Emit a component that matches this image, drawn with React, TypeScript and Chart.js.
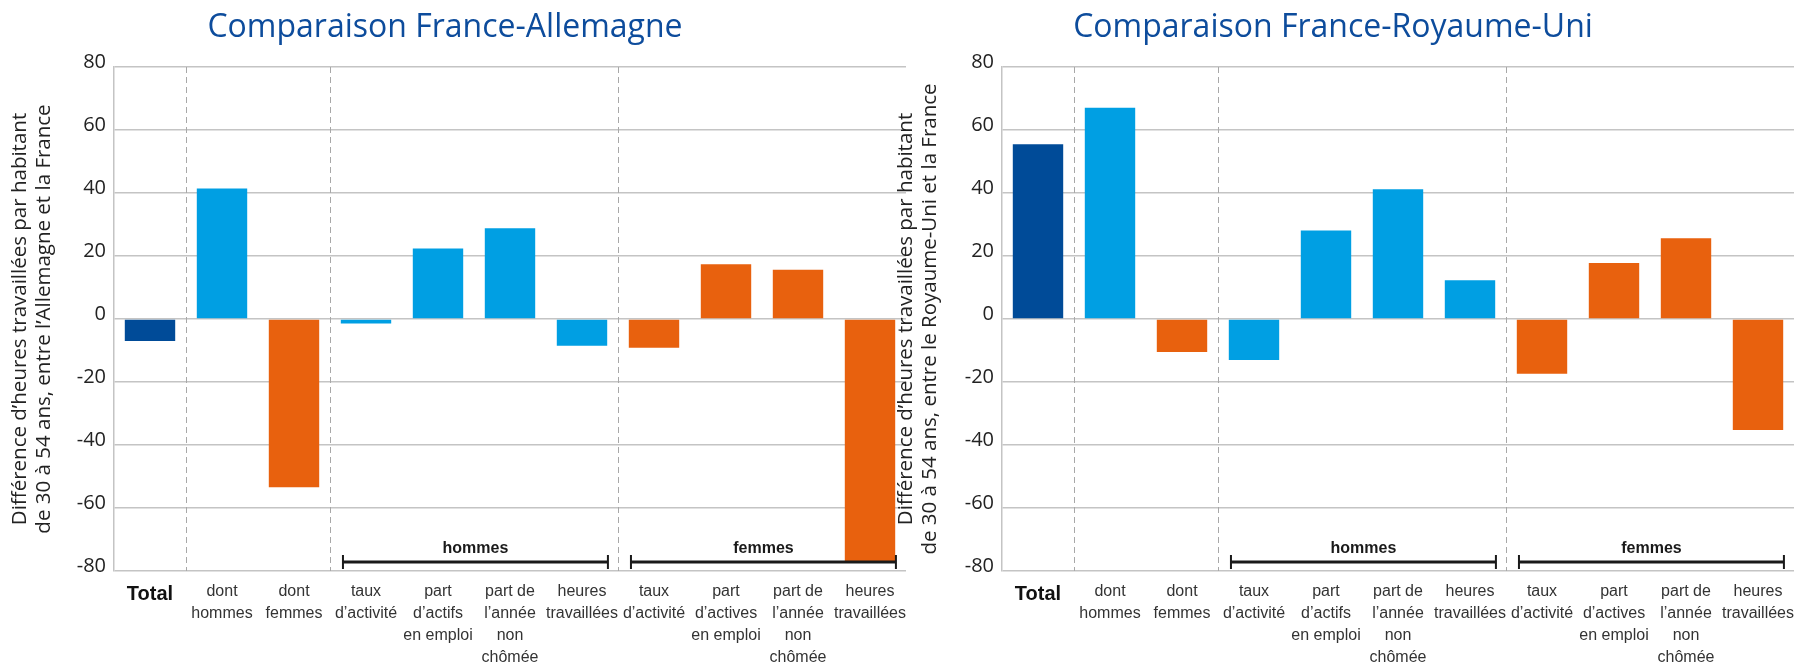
import React, { useEffect, useRef } from "react";
import { Chart, registerables } from "chart.js";

Chart.register(...registerables);

// ---------- data ----------
const categories: string[][] = [
  ["Total"],
  ["dont", "hommes"],
  ["dont", "femmes"],
  ["taux", "d’activité"],
  ["part", "d’actifs", "en emploi"],
  ["part de", "l’année", "non", "chômée"],
  ["heures", "travaillées"],
  ["taux", "d’activité"],
  ["part", "d’actives", "en emploi"],
  ["part de", "l’année", "non", "chômée"],
  ["heures", "travaillées"],
];

const valuesAllemagne = [-7.0, 41.4, -53.4, -1.4, 22.4, 28.8, -8.5, -9.1, 17.4, 15.6, -77.0];
const valuesRoyaumeUni = [55.5, 67.1, -10.5, -13.0, 28.1, 41.2, 12.3, -17.4, 17.8, 25.6, -35.2];

const barColors = [
  "#004b98",
  "#009fe3",
  "#e8610e",
  "#009fe3",
  "#009fe3",
  "#009fe3",
  "#009fe3",
  "#e8610e",
  "#e8610e",
  "#e8610e",
  "#e8610e",
];

const yMin = -80;
const yMax = 80;
const yStep = 20;

const separatorsAfter = [0, 2, 6];
const groupLabels = ["hommes", "femmes"];
const groupFrom = [3, 7];
const groupTo = [6, 10];

const titleAllemagne = "Comparaison France-Allemagne";
const titleRoyaumeUni = "Comparaison France-Royaume-Uni";
const yTitleAllemagne = [
  "Différence d’heures travaillées par habitant",
  "de 30 à 54 ans, entre l’Allemagne et la France",
];
const yTitleRoyaumeUni = [
  "Différence d’heures travaillées par habitant",
  "de 30 à 54 ans, entre le Royaume-Uni et la France",
];

// ---------- styles ----------
const GRID = "#c4c4c4";
const TITLE_COLOR = "#0d4c9c";
const TEXT = "#222222";

function makeDecor(title: string) {
  return {
    id: "decor",
    beforeDatasetsDraw(chart: any) {
      const { ctx, chartArea } = chart;
      const x = chart.scales.x;
      ctx.save();
      ctx.strokeStyle = "#a8a8a8";
      ctx.lineWidth = 1;
      ctx.setLineDash([6, 4]);
      separatorsAfter.forEach((i) => {
        const px = Math.round((x.getPixelForValue(i) + x.getPixelForValue(i + 1)) / 2) + 0.5;
        ctx.beginPath();
        ctx.moveTo(px, chartArea.top);
        ctx.lineTo(px, chartArea.bottom);
        ctx.stroke();
      });
      ctx.restore();
    },
    afterDatasetsDraw(chart: any) {
      const { ctx, chartArea } = chart;
      const x = chart.scales.x;
      const step = x.getPixelForValue(1) - x.getPixelForValue(0);
      const yLine = chartArea.bottom - 9;
      ctx.save();
      ctx.strokeStyle = "#1a1a1a";
      ctx.fillStyle = "#1a1a1a";
      groupLabels.forEach((label, g) => {
        const x0 = x.getPixelForValue(groupFrom[g]) - step * 0.32;
        const x1 = x.getPixelForValue(groupTo[g]) + step * 0.36;
        ctx.lineWidth = 3;
        ctx.beginPath();
        ctx.moveTo(x0, yLine);
        ctx.lineTo(x1, yLine);
        ctx.stroke();
        ctx.lineWidth = 2;
        ctx.beginPath();
        ctx.moveTo(x0, yLine - 7);
        ctx.lineTo(x0, yLine + 7);
        ctx.moveTo(x1, yLine - 7);
        ctx.lineTo(x1, yLine + 7);
        ctx.stroke();
        ctx.font = "bold 16px 'Liberation Sans', Arial, sans-serif";
        ctx.textAlign = "center";
        ctx.textBaseline = "middle";
        ctx.fillText(label, (x0 + x1) / 2, yLine - 13);
      });
      ctx.restore();
    },
    afterDraw(chart: any) {
      const { ctx, chartArea } = chart;
      ctx.save();
      ctx.font = "32px 'Open Sans', sans-serif";
      ctx.fillStyle = TITLE_COLOR;
      ctx.textAlign = "center";
      ctx.textBaseline = "alphabetic";
      ctx.fillText(title, (chartArea.left + chartArea.right) / 2 - 65, 37);
      ctx.restore();
    },
  };
}

function makeConfig(values: number[], title: string, yTitle: string[], yAxisWidth: number, titlePad: number): any {
  return {
    type: "bar",
    data: {
      labels: categories,
      datasets: [
        {
          data: values,
          backgroundColor: barColors,
          borderWidth: 0,
          barPercentage: 0.7,
          categoryPercentage: 1,
        },
      ],
    },
    options: {
      responsive: false,
      animation: false,
      layout: { padding: { left: 0, right: 14, top: 67, bottom: 0 } },
      plugins: {
        legend: { display: false },
        tooltip: { enabled: false },
        title: { display: false },
      },
      scales: {
        x: {
          grid: { display: false, drawTicks: false },
          border: { display: false },
          ticks: {
            maxRotation: 0,
            minRotation: 0,
            autoSkip: false,
            padding: 10,
            color: (c: any) => (c.index === 0 ? "#111111" : "#333333"),
            font: (c: any) =>
              c.index === 0
                ? { family: "'Liberation Sans', Arial, sans-serif", size: 20, weight: "bold", lineHeight: 1.3 }
                : { family: "'Liberation Sans', Arial, sans-serif", size: 16, lineHeight: 1.375 },
          },
          afterFit: (s: any) => {
            s.height = 97;
          },
        },
        y: {
          min: yMin,
          max: yMax,
          ticks: {
            stepSize: yStep,
            padding: 8,
            labelOffset: -5,
            color: TEXT,
            font: { family: "'Open Sans', sans-serif", size: 20 },
          },
          grid: { color: GRID, lineWidth: 1.5, drawTicks: false },
          border: { display: true, color: GRID, width: 1.5 },
          title: {
            display: true,
            text: yTitle,
            color: TEXT,
            font: { family: "'Open Sans', sans-serif", size: 20.5, lineHeight: 24 / 20.5 },
            padding: { top: titlePad, bottom: 0 },
          },
          afterFit: (s: any) => {
            s.width = yAxisWidth;
          },
        },
      },
    },
    plugins: [makeDecor(title)],
  };
}

function BarChart(props: { values: number[]; title: string; yTitle: string[]; yAxisWidth: number; titlePad: number; width: number; left: number }) {
  const ref = useRef<HTMLCanvasElement | null>(null);
  useEffect(() => {
    if (!ref.current) return;
    const chart = new Chart(ref.current, makeConfig(props.values, props.title, props.yTitle, props.yAxisWidth, props.titlePad));
    let alive = true;
    if ((document as any).fonts && (document as any).fonts.ready) {
      (document as any).fonts.ready.then(() => {
        if (alive) chart.update();
      });
    }
    return () => {
      alive = false;
      chart.destroy();
    };
  }, []);
  return (
    <canvas
      ref={ref}
      width={props.width}
      height={668}
      style={{ position: "absolute", top: 0, left: props.left, width: props.width, height: 668 }}
    />
  );
}

export default function App() {
  return (
    <div style={{ position: "fixed", top: 0, left: 0, width: 1808, height: 668, background: "#ffffff" }}>
      <BarChart values={valuesAllemagne} title={titleAllemagne} yTitle={yTitleAllemagne} yAxisWidth={114} titlePad={8} width={920} left={0} />
      <BarChart values={valuesRoyaumeUni} title={titleRoyaumeUni} yTitle={yTitleRoyaumeUni} yAxisWidth={122} titlePad={14} width={928} left={880} />
    </div>
  );
}
